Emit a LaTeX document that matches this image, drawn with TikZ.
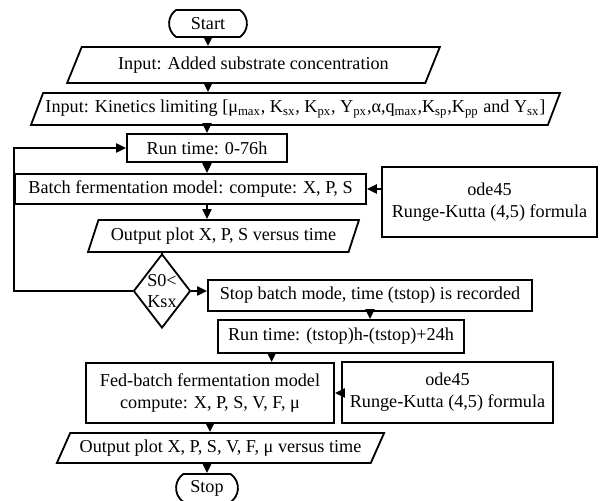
\documentclass[tikz,border=0pt]{standalone}
\usepackage{fontspec}
\setmainfont{Liberation Serif}
\usetikzlibrary{positioning}
\usetikzlibrary{shapes,arrows,arrows.meta,calc}

\tikzset{
	box/.style={draw, line width=1pt, rectangle, align=center, inner sep=1pt},
	io/.style={draw, line width=1pt, trapezium, trapezium stretches body=true, align=center, inner xsep=1pt},
	term/.style={draw, line width=1pt, rounded rectangle, rounded rectangle arc length=110},
	arr/.style={-{Triangle[length=5.5pt,width=5pt]}, line width=1pt}
}

\begin{document}
\begin{tikzpicture}[x=0.55pt, y=-0.55pt]
		\useasboundingbox (0,0) rectangle (601,501);
		\node[term, minimum width=49.5pt, minimum height=14.85pt] (start) at (208,23.5) {Start};
		\node[io, trapezium left angle=63, trapezium right angle=117, minimum width=205pt, minimum height=19.8pt] (in1) at (253.5,65) {Input: Added substrate concentration};
		\node[io, trapezium left angle=68, trapezium right angle=112, minimum width=291pt, minimum height=17.6pt] (in2) at (295.5,109) {Input: Kinetics limiting [μ\textsubscript{max}, K\textsubscript{sx}, K\textsubscript{px}, Y\textsubscript{px},α,q\textsubscript{max},K\textsubscript{sp},K\textsubscript{pp} and Y\textsubscript{sx}]};
		\node[box, minimum width=88pt, minimum height=15.4pt] (run1) at (207,148) {Run time: 0-76h};
		\node[box, minimum width=193pt, minimum height=16.5pt] (batch) at (190.5,189) {Batch fermentation model: compute: X, P, S};
		\node[box, minimum width=118.25pt, minimum height=38.5pt] (ode1) at (489.5,202) {ode45\\Runge-Kutta (4,5) formula};
		\node[io, trapezium left angle=70, trapezium right angle=110, minimum width=149pt, minimum height=17.6pt] (out1) at (223.5,236) {Output plot X, P, S versus time};
		\node[draw, line width=1pt, diamond, inner sep=0pt, minimum width=31.35pt, minimum height=40.7pt,
			label={[align=center, inner sep=0pt]center:S0<\\Ksx}] (dec) at (162,291) {};
		\node[box, minimum width=178.2pt, minimum height=17pt] (stopb) at (370,295.5) {Stop batch mode, time (tstop) is recorded};
		\node[box, minimum width=135.3pt, minimum height=18.15pt] (run2) at (341,336.5) {Run time: (tstop)h-(tstop)+24h};
		\node[box, minimum width=136.4pt, minimum height=33pt] (fed) at (210,393) {Fed-batch fermentation model\\compute: X, P, S, V, F, μ};
		\node[box, minimum width=116pt, minimum height=33.5pt] (ode2) at (447.5,392.5) {ode45\\Runge-Kutta (4,5) formula};
		\node[io, trapezium left angle=65, trapezium right angle=115, minimum width=180pt, minimum height=16.5pt] (out2) at (220.5,448) {Output plot X, P, S, V, F, μ versus time};
		\node[term, minimum width=40.7pt, minimum height=13.2pt] (stop) at (207,488) {Stop};

		% main line
		\draw[arr] (start.south) -- (start.south |- in1.north);
		\draw[arr] (start.south |- in1.south) -- (start.south |- in2.north);
		\draw[arr] (run1.north |- in2.south) -- (run1.north);
		\draw[arr] (run1.south) -- (run1.south |- batch.north);
		\draw[arr] (run1.south |- batch.south) -- (run1.south |- out1.north);
		\draw[line width=1pt] (dec.north |- out1.south) -- (dec.north);
		\draw[arr] (ode1.west |- batch.east) -- (batch.east);

		% loop back
		\draw[arr] (dec.west) -- (dec.west -| batch.west) |- (run1.west);
		\draw[arr] (dec.east) -- (dec.east -| stopb.west);

		% fed-batch
		\coordinate (r2f) at ($(run2.south west)!.22!(run2.south east)$);
		\draw[arr] (stopb.south) -- (stopb.south |- run2.north);
		\draw[arr] (r2f) -- (r2f |- fed.north);
		\draw[arr] (ode2.west |- fed.east) -- (fed.east);
		\draw[arr] (fed.south) -- (fed.south |- out2.north);
		\draw[arr] (stop.north |- out2.south) -- (stop.north);
\end{tikzpicture}
\end{document}
